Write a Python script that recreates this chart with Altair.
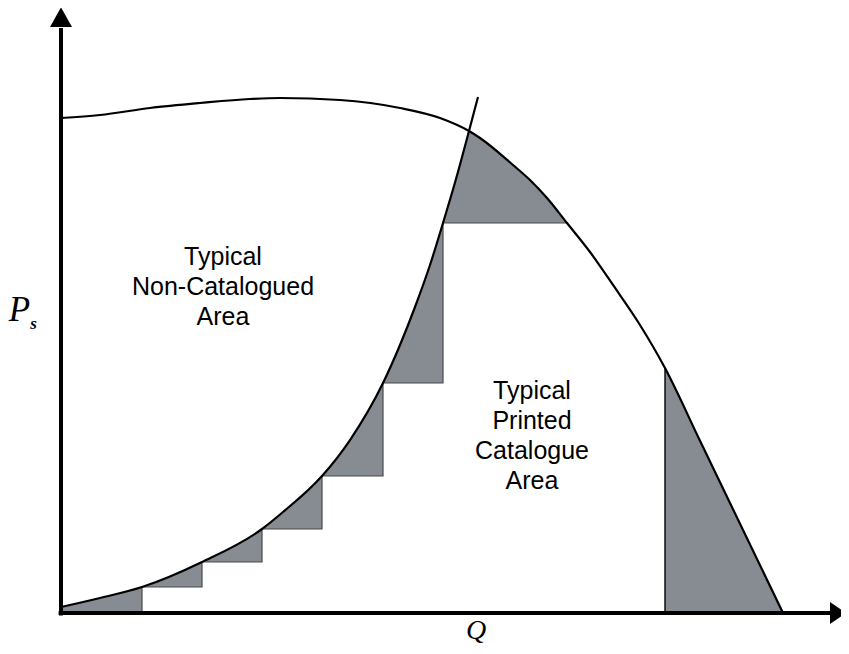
import altair as alt
import pandas as pd

# Fan curve (pressure vs flow)
fan_q = [0, 4.875, 11.125, 17.375, 23.625, 27.375, 34.875, 42.375, 47.375, 51.0,
         52.375, 56.5, 58.625, 60.75, 63.25, 66.125, 69.0, 72.375, 75.5, 79.875, 84.0, 90.25]
fan_ps = [82.5, 83.0, 84.17, 85.0, 85.67, 85.83, 85.5, 84.17, 82.5, 80.33,
          79.17, 74.67, 72.17, 69.17, 65.0, 60.17, 54.67, 48.0, 40.83, 28.7, 17.3, 0.0]

# System curve
sys_q = [0, 4.875, 10.125, 17.625, 25.125, 27.75, 32.625, 36.125, 40.25, 42.375, 44.25,
         46.125, 47.75, 49.375, 51.0, 52.125]
sys_ps = [1.0, 2.5, 4.33, 8.5, 14.0, 16.83, 22.83, 28.83, 38.33, 44.67, 51.0,
          58.0, 65.0, 72.33, 80.33, 86.0]

# Staircase of catalogued operating points
step_q = [0, 10.125, 17.625, 25.125, 32.625, 40.25, 47.75, 63.25]
step_ps = [0, 4.33, 8.5, 14.0, 22.83, 38.33, 65.0, 65.0]

# Top shaded region (between system/fan curves and the top step)
top_q = [47.75, 49.375, 51.0, 52.375, 56.5, 58.625, 60.75, 63.25]
top_ps = [65.0, 72.33, 80.33, 79.17, 74.67, 72.17, 69.17, 65.0]
top_base = 65.0

# Right shaded region under the fan curve
right_q = [75.5, 79.875, 84.0, 90.25]
right_ps = [40.83, 28.7, 17.3, 0.0]

labels = ["Typical\nNon-Catalogued\nArea", "Typical\nPrinted\nCatalogue\nArea"]
label_q = [20.25, 58.875]
label_ps = [59.33, 37.0]

# Axis extents (Q, Ps units)
axis_q_end = 97.5
axis_ps_end = 97.5
arrow_up = [0, 100.95]
arrow_right = [96.125, 0]

GRAY = "#878c92"

xs = alt.Scale(domain=[-6.625, 97.5], nice=False, zero=False)
ys = alt.Scale(domain=[-5.5, 100.833], nice=False, zero=False)


def X(f="Q"):
    return alt.X(f, type="quantitative", scale=xs, axis=None)


def Y(f="Ps"):
    return alt.Y(f, type="quantitative", scale=ys, axis=None)


fan_df = pd.DataFrame({"Q": fan_q, "Ps": fan_ps})
sys_df = pd.DataFrame({"Q": sys_q, "Ps": sys_ps, "z": 0.0})
step_df = pd.DataFrame({"Q": step_q, "Ps": step_ps, "z": 0.0})
top_df = pd.DataFrame({"Q": top_q, "Ps": top_ps, "base": [top_base] * len(top_q)})
right_df = pd.DataFrame({"Q": right_q, "Ps": right_ps, "z": 0.0})
lab_df = pd.DataFrame({"Q": label_q, "Ps": label_ps, "t": labels})

gray_sys = alt.Chart(sys_df[sys_df.Q <= step_q[-2]].reset_index(drop=True)).mark_area(
    color=GRAY, interpolate="monotone", opacity=1
).encode(x=X(), y=Y(), y2="z:Q")

gray_top = alt.Chart(top_df).mark_area(color=GRAY, opacity=1).encode(
    x=X(), y=Y(), y2="base:Q"
)

gray_right = alt.Chart(right_df).mark_area(color=GRAY, opacity=1).encode(
    x=X(), y=Y(), y2="z:Q"
)

white_stairs = alt.Chart(step_df).mark_area(
    color="white", interpolate="step-after", opacity=1
).encode(x=X(), y=Y(), y2="z:Q")

stair_line = alt.Chart(step_df).mark_line(
    color="#4a4a4a", strokeWidth=1.2, interpolate="step-after"
).encode(x=X(), y=Y())

right_rule = alt.Chart(right_df.iloc[[0]].reset_index(drop=True)).mark_rule(
    color="black", strokeWidth=1.4
).encode(x=X(), y=Y(), y2="z:Q")

fan_line = alt.Chart(fan_df).mark_line(
    color="black", strokeWidth=2.2, interpolate="monotone"
).encode(x=X(), y=Y())

sys_line = alt.Chart(sys_df).mark_line(
    color="black", strokeWidth=2.2, interpolate="monotone"
).encode(x=X(), y=Y())

axes_df = pd.DataFrame({"Q": [0.0, -0.3], "Ps": [-0.4, 0.0],
                        "Q2": [0.0, axis_q_end], "Ps2": [axis_ps_end, 0.0]})
axes = alt.Chart(axes_df).mark_rule(color="black", strokeWidth=4).encode(
    x=X(), y=Y(), x2="Q2:Q", y2="Ps2:Q"
)

up_df = pd.DataFrame({"Q": [arrow_up[0]], "Ps": [arrow_up[1]]})
right_head_df = pd.DataFrame({"Q": [arrow_right[0]], "Ps": [arrow_right[1]]})
y_head = alt.Chart(up_df).mark_point(
    shape="M0,0L-1,1.8L1,1.8Z", size=484, filled=True, color="black", opacity=1
).encode(x=X(), y=Y())
x_head = alt.Chart(right_head_df).mark_point(
    shape="M0,-1L1.4545,0L0,1Z", size=484, filled=True, color="black", opacity=1
).encode(x=X(), y=Y())

text = alt.Chart(lab_df).mark_text(
    font="Liberation Sans", fontSize=25, lineBreak="\n", lineHeight=30,
    align="center", baseline="middle", color="black"
).encode(x=X(), y=Y(), text="t:N")

p_df = pd.DataFrame({"Q": [-5.19], "Ps": [48.67], "t": ["P"]})
s_df = pd.DataFrame({"Q": [-3.44], "Ps": [47.4], "t": ["s"]})
q_df = pd.DataFrame({"Q": [51.875], "Ps": [-4.4], "t": ["Q"]})

p_lab = alt.Chart(p_df).mark_text(
    font="Liberation Serif", fontStyle="italic", fontSize=35,
    align="center", baseline="alphabetic", color="black"
).encode(x=X(), y=Y(), text="t:N")
s_lab = alt.Chart(s_df).mark_text(
    font="Liberation Serif", fontStyle="italic", fontWeight="bold", fontSize=17,
    align="center", baseline="alphabetic", color="black"
).encode(x=X(), y=Y(), text="t:N")
q_lab = alt.Chart(q_df).mark_text(
    font="Liberation Serif", fontStyle="italic", fontSize=28,
    align="center", baseline="alphabetic", color="black"
).encode(x=X(), y=Y(), text="t:N")

chart = alt.layer(
    gray_sys, gray_top, gray_right, white_stairs, stair_line, right_rule,
    fan_line, sys_line, axes, y_head, x_head, text, p_lab, s_lab, q_lab
).properties(
    width=833, height=638, autosize="none", padding=0
).configure_view(stroke=None)

chart.save("out.html", embed_options={"renderer": "svg", "actions": False})
